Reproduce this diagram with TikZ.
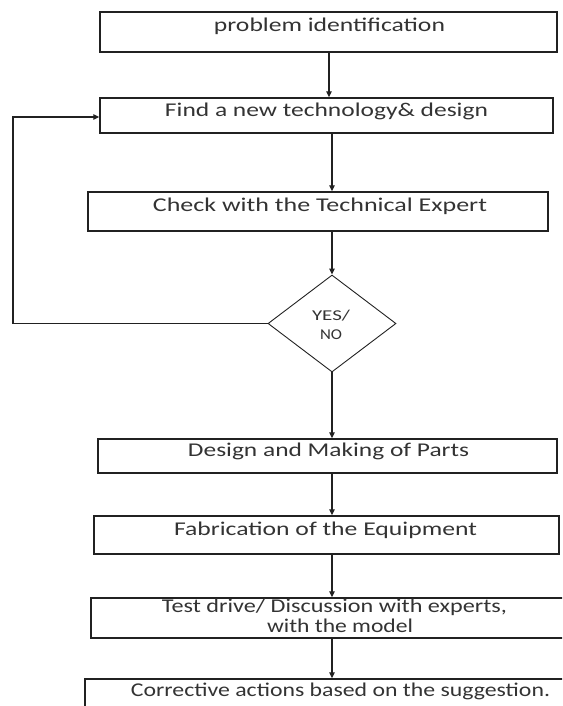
\documentclass[tikz,border=0pt]{standalone}
\usepackage{fontspec}
\setmainfont{Carlito}
\usetikzlibrary{arrows.meta,shapes.geometric}
\definecolor{inkline}{rgb}{0.13,0.13,0.13}
\definecolor{inktext}{rgb}{0.2,0.2,0.2}
% set a text to a given width, keeping its natural height
\newcommand\stretchtext[2]{\resizebox{#1pt}{\height}{#2}}

\begin{document}
\begin{tikzpicture}[x=1pt,y=-1pt,
  stepbox/.style={draw=inkline,line width=1.4pt,rectangle,inner sep=0pt},
  lbl/.style={inner sep=0pt,anchor=base,text=inktext,font=\fontsize{19.5}{22}\selectfont},
  small/.style={inner sep=0pt,anchor=base,text=inktext,font=\fontsize{15}{18}\selectfont},
  arr/.style={draw=inkline,line width=1.1pt,-{Triangle[length=6pt,width=5.5pt]}},
]
\useasboundingbox (0,0) rectangle (562,706);
\clip (0,0) rectangle (562,706);

% process boxes and the decision
\node[stepbox,minimum width=457pt,minimum height=40pt] (b1) at (328.5,32) {};
\node[stepbox,minimum width=453pt,minimum height=35pt] (b2) at (326.5,115.5) {};
\node[stepbox,minimum width=460pt,minimum height=39pt] (b3) at (318,211.5) {};
\node[draw=inkline,line width=0.9pt,diamond,minimum width=128pt,minimum height=97pt,inner sep=0pt] (d) at (332,323.5) {};
\node[stepbox,minimum width=459pt,minimum height=34pt] (b4) at (327.5,456) {};
\node[stepbox,minimum width=465pt,minimum height=38pt] (b5) at (326.5,535) {};
\node[stepbox,minimum width=477pt,minimum height=40pt] (b6) at (329.5,618) {};
\node[stepbox,minimum width=485pt,minimum height=40pt] (b7) at (327.5,699) {};

% labels
\node[lbl] (t1) at (329.5,32) {\stretchtext{231}{problem identification}};
\node[lbl] (t2) at (326.5,116.5) {\stretchtext{323}{Find a new technology\& design}};
\node[lbl] (t3) at (320,211) {\stretchtext{334}{Check with the Technical Expert}};
\node[small] (ty) at (331,320) {\stretchtext{38}{YES/}};
\node[small] (tn) at (331,339) {\stretchtext{22}{NO}};
\node[lbl] (t4) at (328.5,456) {\stretchtext{281}{Design and Making of Parts}};
\node[lbl] (t5) at (325.5,535) {\stretchtext{303}{Fabrication of the Equipment}};
\node[lbl] (t6a) at (334.5,612.5) {\stretchtext{345}{Test drive/ Discussion with experts,}};
\node[lbl] (t6b) at (340,632.5) {\stretchtext{146}{with the model}};
\node[lbl] (t7) at (340.5,696.5) {\stretchtext{419}{Corrective actions based on the suggestion.}};

% connectors
\coordinate (spineA) at (329,0);
\coordinate (spine) at (332,0);
\coordinate (loopb) at (13,323.5);
\coordinate (loopt) at (13,117);
\draw[arr] (b1.south -| spineA) -- (b2.north -| spineA);
\draw[arr] (b2.south -| spine) -- (b3.north -| spine);
\draw[arr] (b3.south -| spine) -- (d.north);
\draw[arr] (d.south) -- (b4.north -| spine);
\draw[arr] (b4.south -| spine) -- (b5.north -| spine);
\draw[arr] (b5.south -| spine) -- (b6.north -| spine);
\draw[arr] (b6.south -| spine) -- (b7.north -| spine);
\draw[arr] (d.west) -- (loopb) -- (loopt) -- (loopt -| b2.west);
\end{tikzpicture}
\end{document}
